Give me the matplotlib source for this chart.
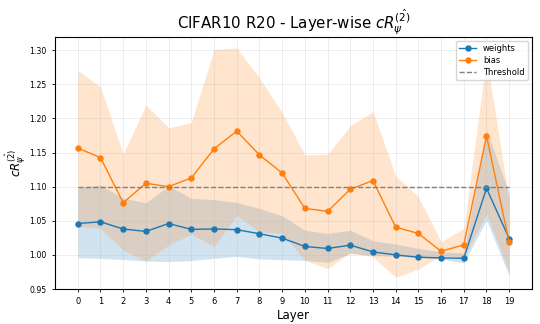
import matplotlib

matplotlib.use("Agg")
import matplotlib.pyplot as plt
import numpy as np

# per-layer values
layers = list(range(20))

weights = [1.046, 1.0485, 1.038, 1.0344, 1.046, 1.0374, 1.038, 1.037, 1.031, 1.0246,
           1.0124, 1.0094, 1.0143, 1.0044, 1.000, 0.9966, 0.9956, 0.995, 1.0976, 1.024]
w_upper = [1.099, 1.1025, 1.083, 1.0765, 1.101, 1.083, 1.081, 1.077, 1.068, 1.0574,
           1.0363, 1.0314, 1.0363, 1.0206, 1.016, 1.0094, 1.0044, 1.003, 1.183, 1.09]
w_lower = [0.996, 0.9947, 0.9932, 0.991, 0.9903, 0.9917, 0.995, 0.998, 0.994, 0.993,
           0.992, 0.989, 1.002, 0.999, 0.998, 0.996, 0.994, 0.9883, 1.051, 0.969]

bias = [1.1565, 1.1427, 1.0765, 1.105, 1.100, 1.1128, 1.1555, 1.1814, 1.1466, 1.120,
        1.0682, 1.0638, 1.0962, 1.109, 1.0407, 1.0314, 1.0054, 1.0147, 1.1746, 1.0182]
b_upper = [1.2706, 1.246, 1.148, 1.2197, 1.1863, 1.194, 1.301, 1.3035, 1.2594, 1.2088,
           1.1466, 1.1476, 1.1893, 1.2103, 1.1157, 1.0853, 1.019, 1.039, 1.289, 1.08]
b_lower = [1.0422, 1.0388, 1.0069, 0.9912, 1.0143, 1.0304, 1.012, 1.058, 1.034, 1.0314,
           0.9922, 0.980, 1.0035, 0.997, 0.967, 0.979, 0.9995, 0.996, 1.06, 0.975]

threshold = 1.10

BLUE, ORANGE = "tab:blue", "tab:orange"
label_tex = r"$cR_{\psi}^{\hat{(2)}}$"

fig = plt.figure(figsize=(5.4, 3.24), dpi=100)
ax = fig.add_axes([0.102, 0.108, 0.883, 0.779])

ax.fill_between(layers, w_lower, w_upper, color=BLUE, alpha=0.2, linewidth=0)
ax.fill_between(layers, b_lower, b_upper, color=ORANGE, alpha=0.2, linewidth=0)
ax.plot(layers, weights, color=BLUE, marker="o", markersize=3.6, linewidth=1.0,
        label="weights")
ax.plot(layers, bias, color=ORANGE, marker="o", markersize=3.6, linewidth=1.0,
        label="bias")
ax.plot([layers[0], layers[-1]], [threshold, threshold], color="grey",
        linestyle="--", linewidth=1.0, label="Threshold")

ax.set_xlim(-1, 20)
ax.set_ylim(0.95, 1.32)
ax.set_xticks(layers)
yt = np.arange(0.95, 1.31, 0.05)
ax.set_yticks(yt)
ax.set_yticklabels([f"{v:.2f}" for v in yt])
ax.tick_params(labelsize=5.6, length=2.5, width=0.6)
ax.tick_params(axis="x", labelsize=6)
ax.grid(True, alpha=0.25, linewidth=0.6)
for s in ax.spines.values():
    s.set_linewidth(0.8)

ax.set_xlabel("Layer", fontsize=8.5, labelpad=2)
ax.set_ylabel(label_tex, fontsize=8.5, labelpad=1)
ax.set_title("CIFAR10 R20 - Layer-wise " + label_tex, fontsize=10.8, pad=5)
ax.legend(loc="upper right", fontsize=6, handlelength=2.0, borderpad=0.4,
          labelspacing=0.35)

fig.savefig("out.png", dpi=100)
